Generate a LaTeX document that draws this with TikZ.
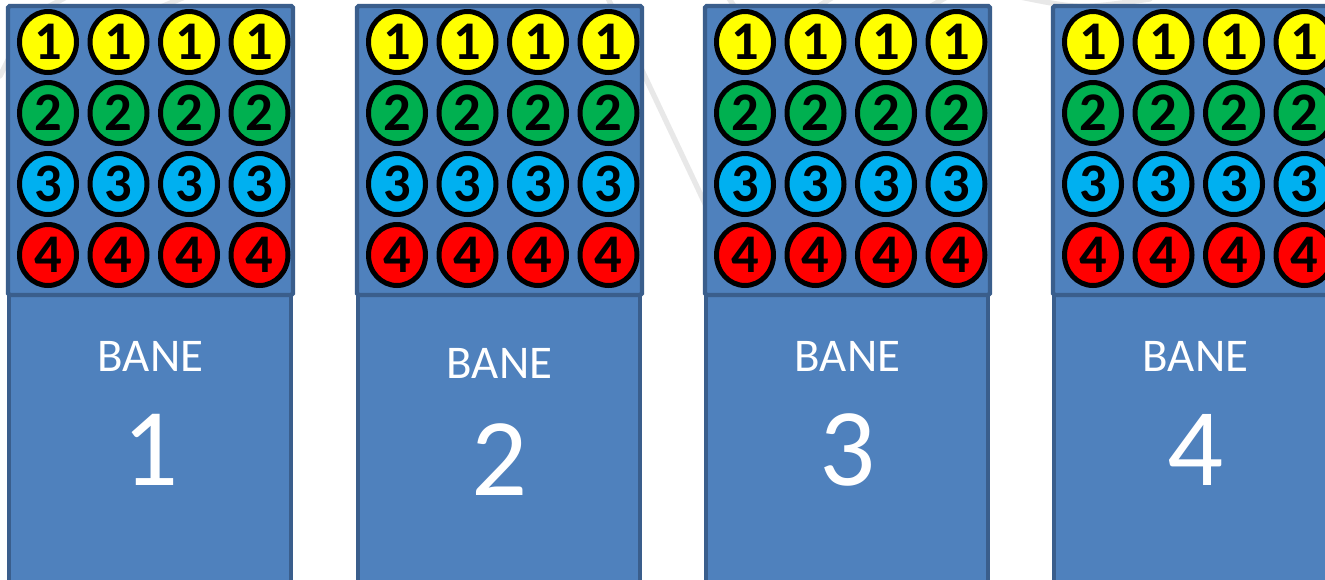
\documentclass[tikz,border=0pt]{standalone}
\usepackage{fontspec}
\setmainfont{Carlito}
\usepackage{xcolor}
\usepackage{tikz}
\usetikzlibrary{shapes.geometric}
\definecolor{laneblue}{HTML}{4F81BD}
\definecolor{laneedge}{HTML}{3A5E8C}
\definecolor{ball1}{HTML}{FFFF00}
\definecolor{ball2}{HTML}{00B050}
\definecolor{ball3}{HTML}{00B0F0}
\definecolor{ball4}{HTML}{FF0000}
\tikzset{
  ball/.style={ellipse, draw=black, line width=2.85pt, minimum width=1.14cm,
    minimum height=1.22cm, inner sep=0pt,
    font=\bfseries\fontsize{31}{31}\selectfont},
  lanebox/.style={fill=laneblue, draw=laneedge, line width=2.5pt},
  watermark/.style={draw=gray!18, line width=3pt, line cap=round},
}

\begin{document}
\begin{tikzpicture}[x=0.02cm, y=-0.02cm]
\clip (0,0) rectangle (1325,579);
\fill[white] (0,0) rectangle (1325,579);
% faint strokes behind the lanes
\draw[watermark] (0,76) -- (16,44);
\draw[watermark] (44,9) -- (72,-6);
\draw[watermark] (156,9) -- (192,-6);
\draw[watermark] (606,-6) -- (708,210);
\draw[watermark] (726,-6) -- (736,9);
\draw[watermark] (814,9) -- (838,-6);
\draw[watermark] (926,9) -- (952,-6);
\draw[watermark] (1020,-3) .. controls (1080,9) .. (1150,-1);
\def\lanex{{8,357,705,1053}}
\def\banedy{{0,7,0,0}}
\def\nrdy{{0,10,0,0}}
\foreach \lane in {0,...,3} {
    \pgfmathsetmacro{\lx}{\lanex[\lane]}
    \pgfmathsetmacro{\bdy}{\banedy[\lane]}
    \pgfmathsetmacro{\ndy}{\nrdy[\lane]}
    \pgfmathtruncatemacro{\num}{\lane+1}
    \draw[lanebox] (\lx+1, 295) rectangle (\lx+283, 600);
    \draw[lanebox, rounded corners=1pt] (\lx, 6) rectangle (\lx+285, 295);
    \foreach \row in {0,...,3} {
        \foreach \col in {0,...,3} {
            \pgfmathtruncatemacro{\val}{\row+1}
            \node[ball, fill=ball\val] (ball-\num-\val-\col)
                at (\lx+40+\col*70.5, 42+\row*71) {\val};
        }
    }
    \node[text=white, font=\fontsize{26.7}{26.7}\selectfont] (bane-\num)
        at (\lx+142.5, 356+\bdy) {BANE};
    \node[text=white, font=\fontsize{63}{63}\selectfont] (banenr-\num)
        at (\lx+142.5, 450+\ndy) {\num};
}
\end{tikzpicture}
\end{document}
